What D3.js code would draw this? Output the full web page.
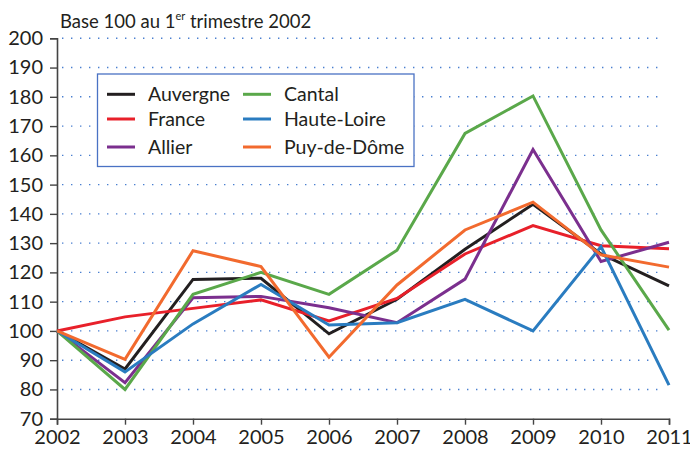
<!DOCTYPE html>
<html>
<head>
<meta charset="utf-8">
<script src="https://cdn.jsdelivr.net/npm/d3@7"></script>
<style>
  body { margin: 0; background: #fff; }
  svg { display: block; font-family: Lato, "Open Sans", sans-serif; }
</style>
</head>
<body>
<div id="chart"></div>
<script>
// years on the x axis
var years = [2002, 2003, 2004, 2005, 2006, 2007, 2008, 2009, 2010, 2011]

// index values, base 100 in 2002
var auvergne   = [100, 87, 117.6, 118, 99, 110.8, 127.9, 143.3, 126.3, 115.4]
var france     = [100, 104.8, 107.7, 110.6, 103.4, 111.1, 126.3, 136, 129.1, 128.1]
var allier     = [100, 82.3, 111.3, 111.8, 107.9, 102.8, 117.7, 162, 123.7, 130.3]
var cantal     = [100, 80, 112.5, 120, 112.5, 127.6, 167.5, 180.3, 134.5, 100.3]
var hauteLoire = [100, 86, 102.4, 115.9, 102, 102.8, 110.8, 100, 128.8, 81.5]
var puyDeDome  = [100, 90.3, 127.4, 122, 91, 115.7, 134.5, 144, 126, 121.8]

var yTicks = [70, 80, 90, 100, 110, 120, 130, 140, 150, 160, 170, 180, 190, 200]

var seriesNames = ['Auvergne', 'France', 'Allier', 'Cantal', 'Haute-Loire', 'Puy-de-Dôme']
var seriesValues = [auvergne, france, allier, cantal, hauteLoire, puyDeDome]
var seriesColors = ['#231f20', '#e8202a', '#7b2f8e', '#5aa84a', '#2a7cc0', '#f26a2e']

var width = 690, height = 450

var svg = d3.select('#chart').append('svg')
    .attr('width', width)
    .attr('height', height)

var x = d3.scaleLinear()
    .domain([2002, 2011])
    .range([57, 669])

var y = d3.scaleLinear()
    .domain([70, 200])
    .range([418.7, 38.3])

// dotted grid
svg.append('g')
    .selectAll('line')
    .data(yTicks.slice(1))
    .enter().append('line')
    .attr('x1', 62)
    .attr('x2', 664)
    .attr('y1', function(d) { return y(d) })
    .attr('y2', function(d) { return y(d) })
    .attr('stroke', '#4a7fd0')
    .attr('stroke-width', 1.4)
    .attr('stroke-dasharray', '1.4,7.6')

// y axis
var yAxis = d3.axisLeft(y)
    .tickValues(yTicks)
    .tickSize(7)
    .tickPadding(7)
    .tickFormat(d3.format('d'))

var gy = svg.append('g')
    .attr('transform', 'translate(57,0)')
    .call(yAxis)
gy.select('.domain').attr('stroke', '#444').attr('stroke-width', 1.6)
gy.selectAll('.tick line').attr('stroke', '#444').attr('stroke-width', 1.4)
gy.selectAll('.tick text')
    .attr('fill', '#231f20')
    .style('font-size', '20px')
    .style('font-family', 'Lato, sans-serif')

// x axis
var xAxis = d3.axisBottom(x)
    .tickValues(years)
    .tickSize(6)
    .tickPadding(5)
    .tickFormat(d3.format('d'))

var gx = svg.append('g')
    .attr('transform', 'translate(0,' + y(70) + ')')
    .call(xAxis)
gx.select('.domain').attr('stroke', '#444').attr('stroke-width', 1.6)
gx.selectAll('.tick line').attr('stroke', '#444').attr('stroke-width', 1.4)
gx.selectAll('.tick text')
    .attr('fill', '#231f20')
    .style('font-size', '20px')
    .style('font-family', 'Lato, sans-serif')

// lines
var line = d3.line()
    .x(function(d, i) { return x(years[i]) })
    .y(function(d) { return y(d) })

svg.append('g')
    .selectAll('path')
    .data(seriesValues)
    .enter().append('path')
    .attr('d', line)
    .attr('fill', 'none')
    .attr('stroke', function(d, i) { return seriesColors[i] })
    .attr('stroke-width', 3)
    .attr('stroke-linejoin', 'miter')

// title
var title = svg.append('text')
    .attr('x', 60)
    .attr('y', 28)
    .attr('fill', '#231f20')
    .style('font-size', '18.5px')
title.append('tspan').text('Base 100 au 1')
title.append('tspan').text('er').attr('dy', -8).style('font-size', '11px')
title.append('tspan').text(' trimestre 2002').attr('dy', 8)

// legend
var legend = svg.append('g')
legend.append('rect')
    .attr('x', 97.5)
    .attr('y', 74)
    .attr('width', 316.5)
    .attr('height', 92.5)
    .attr('fill', '#fff')
    .attr('stroke', '#4a72c4')
    .attr('stroke-width', 1.3)

var rowsY = [94.3, 119, 147]
var item = legend.selectAll('.item')
    .data(seriesNames)
    .enter().append('g')
    .attr('class', 'item')
    .attr('transform', function(d, i) {
        var col = Math.floor(i / 3)
        return 'translate(' + (col === 0 ? 107 : 243) + ',' + rowsY[i % 3] + ')'
    })
item.append('line')
    .attr('x1', 0)
    .attr('x2', 28)
    .attr('stroke', function(d, i) { return seriesColors[i] })
    .attr('stroke-width', 3)
item.append('text')
    .attr('x', 41)
    .attr('dy', '0.35em')
    .attr('fill', '#231f20')
    .style('font-size', '19.5px')
    .text(function(d) { return d })
</script>
</body>
</html>
